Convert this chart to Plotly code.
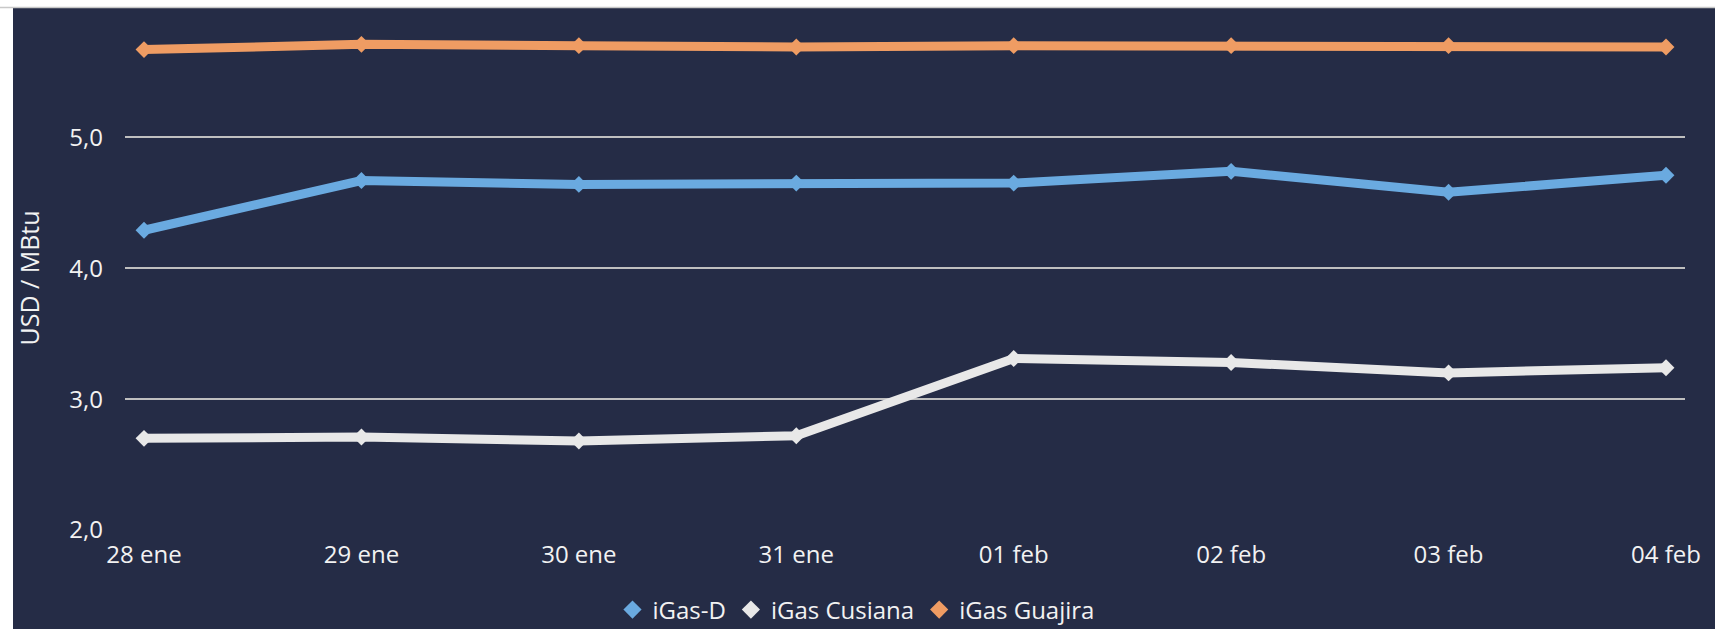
import plotly.graph_objects as go

categories = ["28 ene", "29 ene", "30 ene", "31 ene", "01 feb", "02 feb", "03 feb", "04 feb"]
igas_d = [4.29, 4.67, 4.64, 4.65, 4.65, 4.74, 4.58, 4.71]
igas_cusiana = [2.70, 2.71, 2.68, 2.72, 3.31, 3.28, 3.20, 3.24]
igas_guajira = [5.67, 5.71, 5.70, 5.69, 5.70, 5.70, 5.70, 5.69]
y_ticks = [2, 3, 4, 5]
y_tick_labels = ["2,0", "3,0", "4,0", "5,0"]

series = [
    ("iGas-D", igas_d, "#6AAAE0"),
    ("iGas Cusiana", igas_cusiana, "#E8E8E8"),
    ("iGas Guajira", igas_guajira, "#EF9C63"),
]

BG = "#252C46"
TXT = "#F2F2F2"
FONT = "Open Sans"
FS = 24

fig = go.Figure()
for name, vals, col in series:
    fig.add_trace(go.Scatter(
        x=categories, y=vals, mode="lines+markers", name=name,
        line=dict(color=col, width=9),
        marker=dict(symbol="diamond", size=13, color=col),
        showlegend=False,
    ))
for name, vals, col in series:
    fig.add_trace(go.Scatter(
        x=[None], y=[None], mode="markers", name=name,
        marker=dict(symbol="diamond", size=14, color=col),
        showlegend=True,
    ))

W, H = 1715, 629
L, R, T, B = 125, 30, 26, 99
pw = W - L - R
ph = H - T - B

def px_x(p):
    return (p - L) / pw

def px_y(p):
    return (H - B - p) / ph

fig.update_layout(
    width=W, height=H,
    margin=dict(l=L, r=R, t=T, b=B, pad=0, autoexpand=False),
    paper_bgcolor=BG, plot_bgcolor=BG,
    font=dict(family=FONT, color=TXT, size=FS),
    showlegend=True,
    legend=dict(
        orientation="h", x=px_x(856), xanchor="center",
        y=px_y(610), yanchor="middle",
        font=dict(family=FONT, color=TXT, size=FS),
        bgcolor="rgba(0,0,0,0)", itemwidth=30, tracegroupgap=0,
    ),
    xaxis=dict(
        type="category", range=[-0.0874, 7.0874],
        showgrid=False, zeroline=False, showline=False,
        ticks="", tickfont=dict(family=FONT, color=TXT, size=FS),
        ticklabelstandoff=8, automargin=False,
    ),
    yaxis=dict(
        range=[2, 2 + 504 / 130.9],
        tickvals=y_ticks, ticktext=y_tick_labels,
        showgrid=True, gridcolor="#BFBFBF", gridwidth=1.5,
        zeroline=False, showline=False, ticks="",
        ticklabelstandoff=21, automargin=False,
        tickfont=dict(family=FONT, color=TXT, size=FS),
        title=dict(text="USD / MBtu", font=dict(family=FONT, color=TXT, size=25), standoff=22),
    ),
    shapes=[
        dict(type="rect", xref="paper", yref="paper", layer="above",
             x0=px_x(-5), x1=px_x(13), y0=px_y(H + 5), y1=px_y(-5),
             fillcolor="white", line=dict(width=0)),
        dict(type="rect", xref="paper", yref="paper", layer="above",
             x0=px_x(-5), x1=px_x(W + 5), y0=px_y(7), y1=px_y(-5),
             fillcolor="white", line=dict(width=0)),
        dict(type="line", xref="paper", yref="paper", layer="above",
             x0=px_x(0), x1=px_x(W + 5), y0=px_y(7.5), y1=px_y(7.5),
             line=dict(color="#C8C8C8", width=1.5)),
    ],
)

fig.write_html(
    "out.html",
    config={"displayModeBar": False},
    post_script="document.body.style.margin='0';document.body.style.overflow='hidden';",
)
